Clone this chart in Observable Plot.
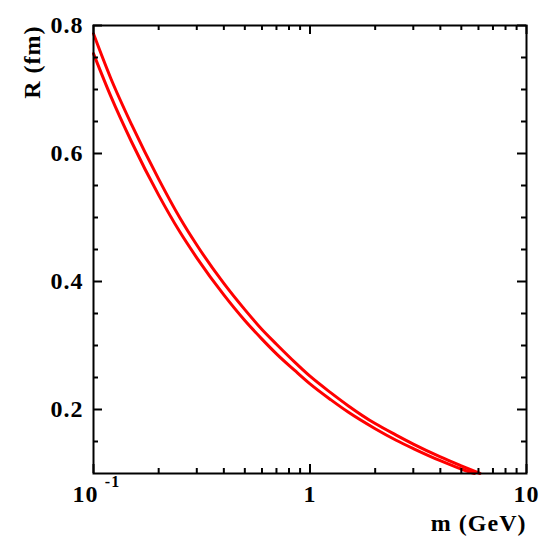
<!DOCTYPE html>
<html>
<head>
<meta charset="utf-8">
<script src="https://cdn.jsdelivr.net/npm/d3@7"></script>
<script src="https://cdn.jsdelivr.net/npm/@observablehq/plot@0.6"></script>
<style>
  html, body { margin: 0; padding: 0; background: #fff; }
</style>
</head>
<body>
<div id="chart"></div>
<script>
// Upper curve (m in GeV, R in fm)
const massUpper   = [0.1, 0.12, 0.15, 0.2, 0.25, 0.3, 0.4, 0.5, 0.6, 0.7, 0.85, 1.0, 1.25, 1.5, 2.0, 2.5, 3.0, 4.0, 5.0, 6.1];
const radiusUpper = [0.787, 0.718, 0.645, 0.560, 0.500, 0.457, 0.397, 0.356, 0.325, 0.302, 0.274, 0.252, 0.226, 0.206, 0.178, 0.160, 0.146, 0.126, 0.112, 0.100];
// Lower curve
const massLower   = [0.1, 0.12, 0.15, 0.2, 0.25, 0.3, 0.4, 0.5, 0.6, 0.7, 0.85, 1.0, 1.25, 1.5, 2.0, 2.5, 3.0, 4.0, 5.0, 5.75];
const radiusLower = [0.756, 0.690, 0.618, 0.535, 0.478, 0.437, 0.379, 0.339, 0.310, 0.287, 0.261, 0.240, 0.215, 0.196, 0.170, 0.152, 0.139, 0.120, 0.107, 0.100];

const xMajorTicks = [0.1, 1, 10];
const xMinorTicks = [0.2, 0.3, 0.4, 0.5, 0.6, 0.7, 0.8, 0.9, 2, 3, 4, 5, 6, 7, 8, 9];
const yMajorTicks = [0.2, 0.4, 0.6, 0.8];
const yMinorTicks = [0.15, 0.25, 0.3, 0.35, 0.45, 0.5, 0.55, 0.65, 0.7, 0.75];
const yTickLabels = ["0.2", "0.4", "0.6", "0.8"];
const xTickValuesPlain = [1, 10];
const xTickLabelsPlain = ["1", "10"];
const xFirstTickBase = "10";
const xFirstTickExp = "-1";
const xTitle = "m (GeV)";
const yTitle = "R (fm)";

const upper = massUpper.map((m, i) => ({m, r: radiusUpper[i]}));
const lower = massLower.map((m, i) => ({m, r: radiusLower[i]}));

const W = 548, H = 550;
const mL = 93, mR = 22, mT = 25, mB = 77;
const fw = W - mL - mR, fh = H - mT - mB;
const majorLen = 9, minorLen = 5;
const font = "'Liberation Serif', 'Times New Roman', serif";
const fs = 24;

const chart = Plot.plot({
  width: W, height: H,
  marginLeft: mL, marginRight: mR, marginTop: mT, marginBottom: mB,
  x: {type: "log", domain: [0.1, 10], axis: null},
  y: {domain: [0.1, 0.8], axis: null},
  style: {fontFamily: font, fontWeight: "bold", background: "white", color: "black"},
  marks: [
    // curves
    Plot.line(upper, {x: "m", y: "r", stroke: "#ff0000", strokeWidth: 3, curve: "monotone-x"}),
    Plot.line(lower, {x: "m", y: "r", stroke: "#ff0000", strokeWidth: 3, curve: "monotone-x"}),
    // inward ticks, bottom & top
    Plot.tickX(xMajorTicks, {x: d => d, insetTop: fh - majorLen, stroke: "black", strokeWidth: 2}),
    Plot.tickX(xMinorTicks, {x: d => d, insetTop: fh - minorLen, stroke: "black", strokeWidth: 2}),
    Plot.tickX(xMajorTicks, {x: d => d, insetBottom: fh - majorLen, stroke: "black", strokeWidth: 2}),
    Plot.tickX(xMinorTicks, {x: d => d, insetBottom: fh - minorLen, stroke: "black", strokeWidth: 2}),
    // inward ticks, left & right
    Plot.tickY(yMajorTicks, {y: d => d, insetRight: fw - majorLen, stroke: "black", strokeWidth: 2}),
    Plot.tickY(yMinorTicks, {y: d => d, insetRight: fw - minorLen, stroke: "black", strokeWidth: 2}),
    Plot.tickY(yMajorTicks, {y: d => d, insetLeft: fw - majorLen, stroke: "black", strokeWidth: 2}),
    Plot.tickY(yMinorTicks, {y: d => d, insetLeft: fw - minorLen, stroke: "black", strokeWidth: 2}),
    // frame
    Plot.frame({stroke: "black", strokeWidth: 2}),
    // y tick labels
    Plot.text(yMajorTicks, {y: d => d, text: (d, i) => yTickLabels[i], frameAnchor: "left", textAnchor: "end", dx: -10,
      fontSize: fs, fontWeight: "bold", fontFamily: font}),
    // x tick labels
    Plot.text(xTickValuesPlain, {x: d => d, text: (d, i) => xTickLabelsPlain[i], frameAnchor: "bottom", textAnchor: "middle", dy: 28,
      fontSize: fs, fontWeight: "bold", fontFamily: font}),
    Plot.text([xMajorTicks[0]], {x: d => d, text: () => xFirstTickBase, frameAnchor: "bottom", textAnchor: "middle", dx: -8, dy: 28,
      fontSize: fs, fontWeight: "bold", fontFamily: font}),
    Plot.text([xMajorTicks[0]], {x: d => d, text: () => xFirstTickExp, frameAnchor: "bottom", textAnchor: "middle", dx: 19, dy: 13,
      fontSize: 16, fontWeight: "bold", fontFamily: font}),
    // axis titles
    Plot.text([xTitle], {text: d => d, frameAnchor: "bottom-right", textAnchor: "end", dx: 0, dy: 57,
      fontSize: fs, fontWeight: "bold", fontFamily: font}),
    Plot.text([yTitle], {text: d => d, frameAnchor: "top-left", textAnchor: "end", rotate: -90, dx: -71, dy: 0,
      fontSize: fs, fontWeight: "bold", fontFamily: font})
  ]
});

chart.querySelectorAll("text").forEach(t => t.style.letterSpacing = "1px");
document.getElementById("chart").appendChild(chart);
</script>
</body>
</html>
